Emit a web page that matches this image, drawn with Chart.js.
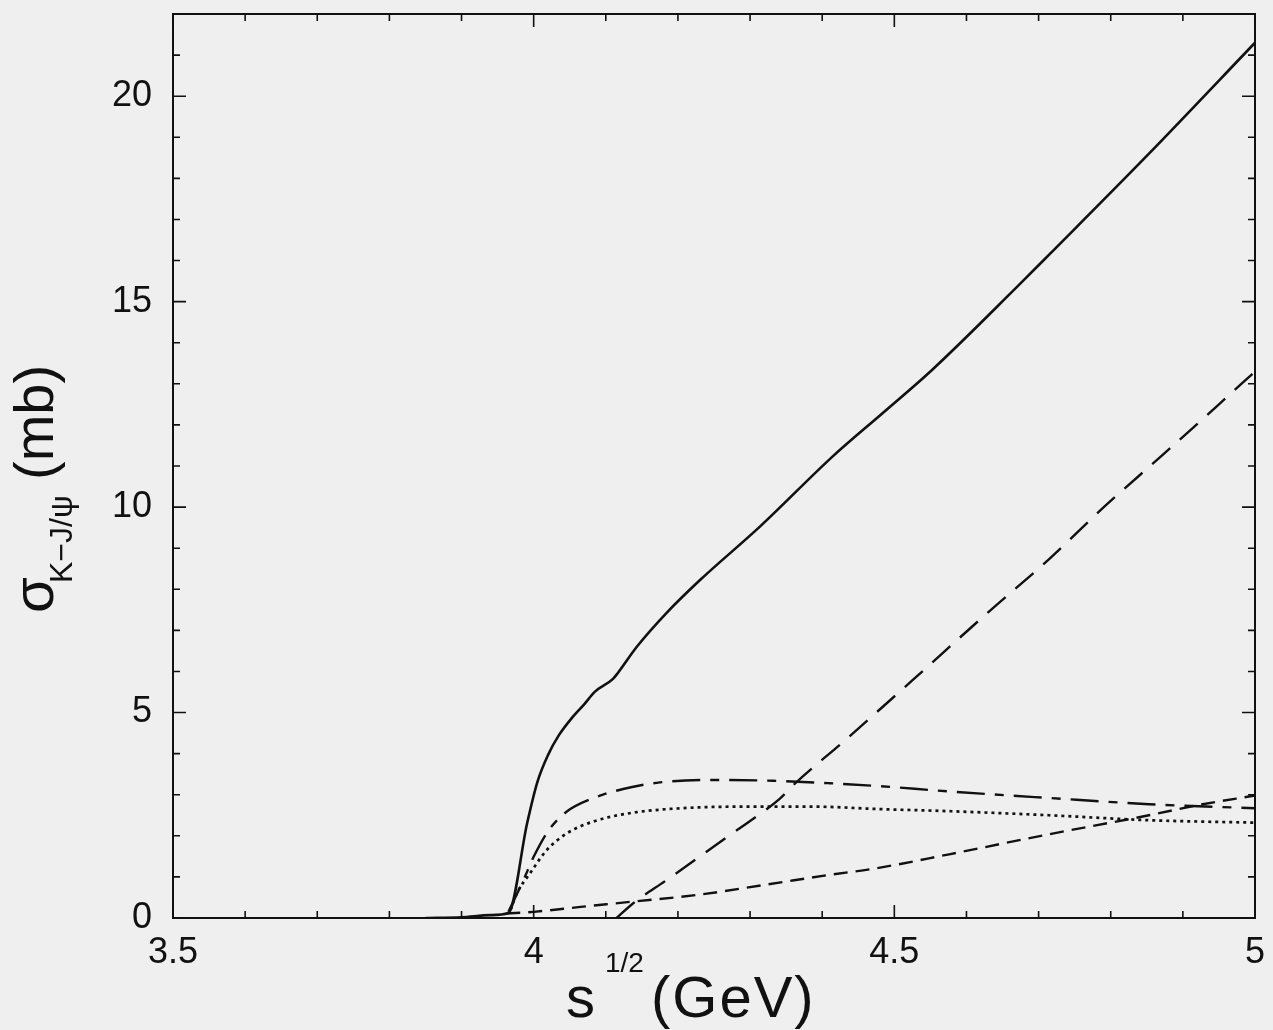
<!DOCTYPE html>
<html>
<head>
<meta charset="utf-8">
<script src="https://cdn.jsdelivr.net/npm/chart.js"></script>
<style>
  html, body { margin: 0; padding: 0; background: #efefef; }
  canvas { display: block; }
</style>
</head>
<body>
<canvas id="sigma" width="1273" height="1030"></canvas>
<script>
// curves: x = sqrt(s) in GeV, y = sigma in mb
const solidX = [3.85, 3.90, 3.94, 3.965, 3.991, 4.005, 4.020, 4.035, 4.053, 4.070, 4.085, 4.110, 4.117, 4.143, 4.184, 4.231, 4.314, 4.415, 4.484, 4.553, 4.669, 4.715, 4.853, 5.0];
const solidY = [0, 0.02, 0.07, 0.12, 2.31, 3.3, 3.97, 4.45, 4.87, 5.2, 5.51, 5.82, 5.97, 6.6, 7.42, 8.23, 9.53, 11.24, 12.29, 13.35, 15.34, 16.15, 18.6, 21.3];

const longDashX = [4.115, 4.138, 4.184, 4.272, 4.341, 4.364, 4.43, 4.526, 4.632, 4.715, 4.793, 4.872, 4.95, 5.0];
const longDashY = [0, 0.36, 0.92, 2.02, 2.9, 3.3, 4.3, 5.8, 7.47, 8.74, 10.04, 11.27, 12.5, 13.3];

const dashDotX = [3.965, 3.986, 4.0, 4.021, 4.046, 4.083, 4.124, 4.175, 4.249, 4.332, 4.410, 4.470, 4.576, 4.715, 4.853, 5.0];
const dashDotY = [0.15, 0.93, 1.49, 2.14, 2.59, 2.92, 3.14, 3.30, 3.36, 3.34, 3.28, 3.22, 3.08, 2.92, 2.77, 2.67];

const dottedX = [3.968, 3.977, 3.995, 4.018, 4.046, 4.083, 4.133, 4.203, 4.295, 4.388, 4.480, 4.576, 4.715, 4.853, 5.0];
const dottedY = [0.2, 0.61, 1.09, 1.65, 2.06, 2.35, 2.55, 2.67, 2.71, 2.71, 2.65, 2.6, 2.5, 2.38, 2.32];

const shortDashX = [3.962, 4.0, 4.065, 4.138, 4.226, 4.318, 4.410, 4.475, 4.576, 4.715, 4.853, 4.922, 5.0];
const shortDashY = [0.11, 0.15, 0.27, 0.4, 0.56, 0.8, 1.05, 1.21, 1.55, 2.04, 2.5, 2.75, 2.98];

// axes
const xTickValues = [3.5, 4, 4.5, 5];
const xMinorTicks = [3.6, 3.7, 3.8, 3.9, 4.1, 4.2, 4.3, 4.4, 4.6, 4.7, 4.8, 4.9];
const yTickValues = [0, 5, 10, 15, 20];
const yMinorTicks = [1, 2, 3, 4, 6, 7, 8, 9, 11, 12, 13, 14, 16, 17, 18, 19, 21];

const FONT = '"Liberation Sans", Arial, Helvetica, sans-serif';
const INK = '#111';

function pts(xs, ys) {
    return xs.map((x, i) => ({ x: x, y: ys[i] }));
}

function curve(xs, ys, dash, width) {
    return {
        data: pts(xs, ys),
        borderColor: INK,
        borderWidth: width,
        borderDash: dash,
        pointRadius: 0,
        fill: false,
        cubicInterpolationMode: 'monotone'
    };
}

// background, frame with inward ticks, axis titles
const framePlugin = {
    id: 'frame',
    beforeDraw(chart) {
        const ctx = chart.ctx;
        ctx.save();
        ctx.fillStyle = '#efefef';
        ctx.fillRect(0, 0, chart.width, chart.height);
        ctx.restore();
    },
    afterDatasetsDraw(chart) {
        const ctx = chart.ctx;
        const a = chart.chartArea;
        const xs = chart.scales.x, ys = chart.scales.y;
        ctx.save();
        ctx.strokeStyle = INK;
        ctx.lineWidth = 2;
        ctx.strokeRect(a.left, a.top, a.right - a.left, a.bottom - a.top);
        ctx.lineWidth = 1.6;
        ctx.beginPath();
        function xt(v, len) {
            const p = xs.getPixelForValue(v);
            ctx.moveTo(p, a.bottom); ctx.lineTo(p, a.bottom - len);
            ctx.moveTo(p, a.top); ctx.lineTo(p, a.top + len);
        }
        function yt(v, len) {
            const p = ys.getPixelForValue(v);
            ctx.moveTo(a.left, p); ctx.lineTo(a.left + len, p);
            ctx.moveTo(a.right, p); ctx.lineTo(a.right - len, p);
        }
        xTickValues.forEach(v => xt(v, 13));
        xMinorTicks.forEach(v => xt(v, 7));
        yTickValues.forEach(v => yt(v, 13));
        yMinorTicks.forEach(v => yt(v, 7));
        ctx.stroke();

        ctx.fillStyle = INK;
        ctx.textBaseline = 'alphabetic';
        ctx.textAlign = 'left';
        // x title: s^{1/2} (GeV)
        ctx.font = '58px ' + FONT;
        ctx.fillText('s', 566, 1017);
        ctx.font = '28px ' + FONT;
        ctx.fillText('1/2', 605, 972);
        ctx.font = '58px ' + FONT;
        ctx.letterSpacing = '2px';
        ctx.fillText('(GeV)', 651, 1017);
        ctx.letterSpacing = '0px';

        // y title: sigma_{K-J/psi}(mb), rotated
        ctx.translate(53, 613);
        ctx.rotate(-Math.PI / 2);
        ctx.font = '58px ' + FONT;
        ctx.fillText('σ', 0, 0);
        ctx.font = '32px ' + FONT;
        ctx.fillText('K\u2212J/\u03C8', 30, 19);
        ctx.font = '56px ' + FONT;
        ctx.fillText('(mb)', 133, 0);
        ctx.restore();
    }
};

new Chart(document.getElementById('sigma'), {
    type: 'line',
    data: {
        datasets: [
            curve(solidX, solidY, [], 2.6),
            curve(longDashX, longDashY, [24, 13], 2.4),
            curve(dashDotX, dashDotY, [28, 10, 9, 10], 2.4),
            curve(dottedX, dottedY, [3, 4], 2.7),
            curve(shortDashX, shortDashY, [14, 8], 2.4)
        ]
    },
    options: {
        responsive: false,
        animation: false,
        layout: { padding: { left: 0, right: 18, top: 14, bottom: 0 } },
        plugins: { legend: { display: false }, tooltip: { enabled: false } },
        scales: {
            x: {
                type: 'linear',
                min: 3.5,
                max: 5,
                grid: { display: false, drawTicks: false },
                border: { display: false },
                afterBuildTicks: s => { s.ticks = xTickValues.map(v => ({ value: v })); },
                afterFit: s => { s.height = 112; s.paddingLeft = 0; s.paddingRight = 0; },
                ticks: {
                    padding: 13,
                    maxRotation: 0,
                    color: INK,
                    font: { family: FONT, size: 36 },
                    callback: v => String(v)
                }
            },
            y: {
                min: 0,
                max: 22,
                grid: { display: false, drawTicks: false },
                border: { display: false },
                afterBuildTicks: s => { s.ticks = yTickValues.map(v => ({ value: v })); },
                afterFit: s => { s.width = 173; s.paddingTop = 0; s.paddingBottom = 0; },
                ticks: {
                    padding: 21,
                    color: INK,
                    font: { family: FONT, size: 36 },
                    callback: v => String(v)
                }
            }
        }
    },
    plugins: [framePlugin]
});
</script>
</body>
</html>
